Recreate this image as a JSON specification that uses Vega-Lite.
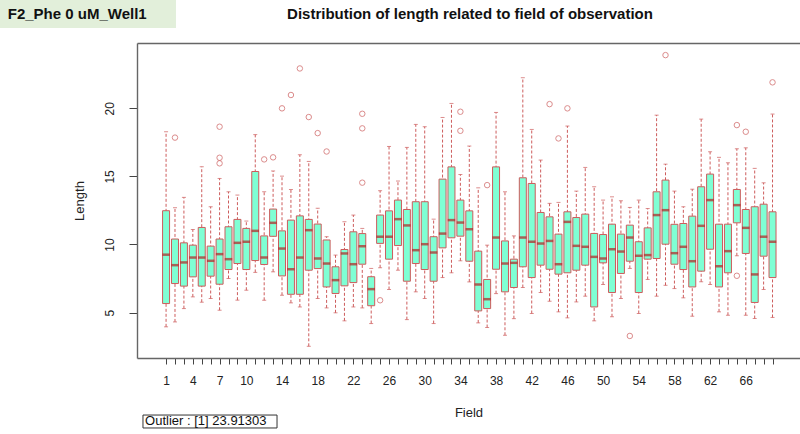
{
  "$schema": "https://vega.github.io/schema/vega-lite/v6.json",
  "autosize": "none",
  "width": 663,
  "height": 315,
  "padding": {"left": 137, "top": 43, "right": 0, "bottom": 76},
  "background": "white",
  "config": {"view": {"stroke": null}, "font": "Liberation Sans"},
  "datasets": {
    "boxes": [
      {"field":1,"lo":3.95,"q1":5.66,"med":9.25,"q3":12.48,"hi":18.28},
      {"field":2,"lo":4.31,"q1":7.13,"med":8.48,"q3":10.4,"hi":12.7},
      {"field":3,"lo":5.29,"q1":6.94,"med":8.68,"q3":10.12,"hi":13.46},
      {"field":4,"lo":6.15,"q1":7.62,"med":9.04,"q3":9.95,"hi":11.1},
      {"field":5,"lo":5.76,"q1":6.94,"med":9.04,"q3":11.25,"hi":15.71},
      {"field":6,"lo":6.03,"q1":7.67,"med":8.8,"q3":9.88,"hi":12.77},
      {"field":7,"lo":5.17,"q1":7.08,"med":9.29,"q3":10.4,"hi":14.85},
      {"field":8,"lo":7.5,"q1":8.16,"med":8.92,"q3":11.3,"hi":13.87},
      {"field":9,"lo":5.91,"q1":8.6,"med":10.12,"q3":11.84,"hi":13.63},
      {"field":10,"lo":6.64,"q1":8.16,"med":10.2,"q3":11.18,"hi":11.72},
      {"field":11,"lo":7.95,"q1":8.82,"med":11.0,"q3":15.36,"hi":18.07},
      {"field":12,"lo":5.9,"q1":8.53,"med":9.04,"q3":10.63,"hi":13.87},
      {"field":13,"lo":7.99,"q1":10.6,"med":11.59,"q3":12.6,"hi":15.4},
      {"field":14,"lo":6.27,"q1":7.69,"med":9.7,"q3":11.0,"hi":15.02},
      {"field":15,"lo":5.71,"q1":6.34,"med":8.18,"q3":11.79,"hi":14.04},
      {"field":16,"lo":5.41,"q1":6.34,"med":9.04,"q3":12.1,"hi":16.59},
      {"field":17,"lo":2.52,"q1":8.11,"med":11.05,"q3":11.84,"hi":16.1},
      {"field":18,"lo":6.03,"q1":8.23,"med":8.97,"q3":11.5,"hi":12.66},
      {"field":19,"lo":5.34,"q1":6.88,"med":8.6,"q3":10.33,"hi":10.57},
      {"field":20,"lo":4.98,"q1":6.4,"med":7.38,"q3":8.36,"hi":9.22},
      {"field":21,"lo":4.39,"q1":6.96,"med":9.34,"q3":9.63,"hi":11.67},
      {"field":22,"lo":5.41,"q1":7.2,"med":8.55,"q3":10.93,"hi":12.16},
      {"field":23,"lo":5.34,"q1":8.55,"med":9.87,"q3":10.8,"hi":11.18},
      {"field":24,"lo":4.19,"q1":5.5,"med":6.72,"q3":7.63,"hi":8.24},
      {"field":25,"lo":8.29,"q1":10.08,"med":10.57,"q3":12.16,"hi":13.95},
      {"field":26,"lo":6.69,"q1":8.92,"med":10.57,"q3":12.47,"hi":17.2},
      {"field":27,"lo":8.11,"q1":9.92,"med":11.86,"q3":13.26,"hi":14.66},
      {"field":28,"lo":4.48,"q1":7.3,"med":11.4,"q3":12.57,"hi":17.13},
      {"field":29,"lo":6.52,"q1":8.6,"med":9.58,"q3":13.14,"hi":18.82},
      {"field":30,"lo":6.03,"q1":8.16,"med":10.02,"q3":13.14,"hi":18.65},
      {"field":31,"lo":4.19,"q1":7.3,"med":9.41,"q3":10.57,"hi":11.86},
      {"field":32,"lo":7.57,"q1":9.75,"med":10.8,"q3":14.8,"hi":19.33},
      {"field":33,"lo":7.92,"q1":10.49,"med":11.79,"q3":15.7,"hi":20.36},
      {"field":34,"lo":8.8,"q1":10.61,"med":11.61,"q3":13.26,"hi":15.14},
      {"field":35,"lo":7.25,"q1":8.77,"med":11.12,"q3":12.47,"hi":17.23},
      {"field":36,"lo":4.24,"q1":5.12,"med":7.06,"q3":9.51,"hi":14.16},
      {"field":37,"lo":3.9,"q1":5.29,"med":5.98,"q3":7.43,"hi":9.95},
      {"field":38,"lo":6.39,"q1":8.18,"med":10.51,"q3":15.7,"hi":19.7},
      {"field":39,"lo":3.33,"q1":6.52,"med":8.6,"q3":10.26,"hi":13.87},
      {"field":40,"lo":4.55,"q1":6.84,"med":8.65,"q3":8.92,"hi":10.63},
      {"field":41,"lo":6.84,"q1":8.36,"med":10.51,"q3":14.9,"hi":22.25},
      {"field":42,"lo":4.93,"q1":7.57,"med":10.2,"q3":14.48,"hi":18.45},
      {"field":43,"lo":6.47,"q1":8.48,"med":10.07,"q3":12.35,"hi":16.2},
      {"field":44,"lo":5.83,"q1":8.18,"med":10.26,"q3":12.03,"hi":13.02},
      {"field":45,"lo":5.05,"q1":7.82,"med":8.55,"q3":10.76,"hi":13.09},
      {"field":46,"lo":4.61,"q1":7.92,"med":11.66,"q3":12.4,"hi":18.7},
      {"field":47,"lo":5.78,"q1":8.11,"med":9.9,"q3":11.98,"hi":13.92},
      {"field":48,"lo":6.2,"q1":8.48,"med":9.83,"q3":12.23,"hi":15.66},
      {"field":49,"lo":4.39,"q1":5.41,"med":9.09,"q3":10.81,"hi":14.24},
      {"field":50,"lo":7.06,"q1":8.65,"med":8.97,"q3":10.73,"hi":13.26},
      {"field":51,"lo":4.69,"q1":6.47,"med":9.65,"q3":11.49,"hi":13.5},
      {"field":52,"lo":6.03,"q1":7.87,"med":9.48,"q3":10.76,"hi":13.21},
      {"field":53,"lo":8.24,"q1":8.77,"med":10.51,"q3":11.42,"hi":12.72},
      {"field":54,"lo":4.93,"q1":6.47,"med":9.17,"q3":10.2,"hi":13.26},
      {"field":55,"lo":7.43,"q1":8.92,"med":9.22,"q3":11.22,"hi":12.64},
      {"field":56,"lo":6.2,"q1":8.97,"med":12.16,"q3":13.87,"hi":19.5},
      {"field":57,"lo":7.0,"q1":10.02,"med":12.52,"q3":14.73,"hi":15.9},
      {"field":58,"lo":6.76,"q1":8.55,"med":9.36,"q3":11.48,"hi":13.92},
      {"field":59,"lo":6.08,"q1":8.16,"med":9.83,"q3":11.54,"hi":12.77},
      {"field":60,"lo":4.73,"q1":6.88,"med":8.77,"q3":12.08,"hi":14.06},
      {"field":61,"lo":7.26,"q1":8.04,"med":11.37,"q3":14.24,"hi":19.21},
      {"field":62,"lo":7.06,"q1":9.65,"med":13.26,"q3":15.17,"hi":16.81},
      {"field":63,"lo":5.05,"q1":6.88,"med":8.4,"q3":11.49,"hi":16.4},
      {"field":64,"lo":4.8,"q1":7.92,"med":9.51,"q3":11.49,"hi":16.0},
      {"field":65,"lo":9.17,"q1":11.59,"med":12.89,"q3":14.04,"hi":17.03},
      {"field":66,"lo":4.8,"q1":9.34,"med":11.22,"q3":12.57,"hi":17.1},
      {"field":67,"lo":4.56,"q1":5.74,"med":7.8,"q3":12.77,"hi":15.59},
      {"field":68,"lo":6.69,"q1":9.14,"med":10.57,"q3":12.96,"hi":14.53},
      {"field":69,"lo":4.64,"q1":7.57,"med":10.2,"q3":12.4,"hi":19.58}
    ],
    "outliers": [
      {"field":2,"value":17.85},
      {"field":7,"value":18.65},{"field":7,"value":16.37},{"field":7,"value":15.96},
      {"field":12,"value":16.25},
      {"field":13,"value":16.4},
      {"field":14,"value":20.0},
      {"field":15,"value":20.98},
      {"field":16,"value":22.93},
      {"field":17,"value":19.36},
      {"field":18,"value":18.18},
      {"field":19,"value":16.83},
      {"field":23,"value":19.6},{"field":23,"value":18.53},{"field":23,"value":14.54},
      {"field":25,"value":5.9},
      {"field":34,"value":19.75},{"field":34,"value":18.35},
      {"field":37,"value":14.36},
      {"field":44,"value":20.31},
      {"field":45,"value":17.79},
      {"field":46,"value":20.0},
      {"field":53,"value":3.28},
      {"field":57,"value":23.91},
      {"field":65,"value":18.77},{"field":65,"value":7.7},
      {"field":66,"value":18.28},
      {"field":69,"value":21.91}
    ],
    "header": [{"label": "F2_Phe 0 uM_Well1"}],
    "title": [{"label": "Distribution of length related to field of observation"}],
    "note": [{"label": "Outlier : [1] 23.91303"}]
  },
  "resolve": {"axis": {"x": "independent", "y": "independent"}},
  "layer": [
    {
      "data": {"name": "boxes"},
      "mark": {"type": "rule", "color": "#CD5C5C", "strokeDash": [3, 2], "strokeWidth": 1},
      "encoding": {
        "x": {"field": "field", "type": "quantitative", "scale": {"domain": [-2.26, 72.08], "nice": false, "zero": false, "padding": 0},
              "axis": {"orient": "bottom", "values": [1,2,3,4,5,6,7,8,9,10,11,12,13,14,15,16,17,18,19,20,21,22,23,24,25,26,27,28,29,30,31,32,33,34,35,36,37,38,39,40,41,42,43,44,45,46,47,48,49,50,51,52,53,54,55,56,57,58,59,60,61,62,63,64,65,66,67,68,69],
                       "labelExpr": "((datum.value <= 10 && (datum.value - 1) % 3 == 0) || (datum.value >= 14 && datum.value <= 66 && (datum.value - 10) % 4 == 0)) ? datum.label : ''",
                       "labelOverlap": false, "labelAngle": 0, "labelFlush": false, "tickSize": 6, "tickColor": "#444", "labelPadding": 11,
                       "labelFontSize": 12, "labelColor": "#222", "labelFont": "Liberation Sans",
                       "title": "Field", "titleFontSize": 13, "titleFontWeight": "normal", "titleColor": "#222", "titleFont": "Liberation Sans", "titlePadding": 20,
                       "domainColor": "#666", "domainWidth": 1.4, "grid": false}},
        "y": {"field": "lo", "type": "quantitative", "scale": {"domain": [1.66, 24.8], "nice": false, "zero": false, "padding": 0},
              "axis": {"values": [5, 10, 15, 20], "labelAngle": -90, "tickSize": 8, "tickColor": "#444", "labelPadding": 13,
                       "labelFontSize": 12, "labelColor": "#222", "labelFont": "Liberation Sans",
                       "title": "Length", "titleFontSize": 13, "titleFontWeight": "normal", "titleColor": "#222", "titleFont": "Liberation Sans", "titlePadding": 17,
                       "domainColor": "#666", "domainWidth": 1.4, "grid": false}},
        "y2": {"field": "hi"}
      }
    },
    {
      "data": {"name": "header"},
      "mark": {"type": "rect", "fill": "#E2EFDA", "clip": false},
      "encoding": {
        "x": {"datum": -17.7, "type": "quantitative",
              "axis": {"orient": "top", "domain": true, "domainColor": "#666", "domainWidth": 1.4, "ticks": false, "labels": false, "title": null, "grid": false}},
        "x2": {"datum": 2.11},
        "y": {"datum": 28.2, "type": "quantitative", "axis": null},
        "y2": {"datum": 25.9}
      }
    },
    {
      "data": {"name": "header"},
      "mark": {"type": "text", "align": "left", "baseline": "middle", "font": "Liberation Sans", "fontWeight": "bold", "fontSize": 15, "color": "#111", "clip": false},
      "encoding": {
        "x": {"datum": -16.75, "type": "quantitative", "axis": null},
        "y": {"datum": 26.95, "type": "quantitative", "axis": null},
        "text": {"field": "label"}
      }
    },
    {
      "data": {"name": "title"},
      "mark": {"type": "text", "align": "center", "baseline": "middle", "font": "Liberation Sans", "fontWeight": "bold", "fontSize": 15, "color": "#111", "clip": false},
      "encoding": {
        "x": {"datum": 35.08, "type": "quantitative", "axis": null},
        "y": {"datum": 26.95, "type": "quantitative", "axis": null},
        "text": {"field": "label"}
      }
    },
    {
      "data": {"name": "boxes"},
      "mark": {"type": "tick", "orient": "horizontal", "color": "#CD5C5C", "size": 4, "thickness": 1},
      "encoding": {
        "x": {"field": "field", "type": "quantitative", "axis": null},
        "y": {"field": "lo", "type": "quantitative", "axis": null}
      }
    },
    {
      "data": {"name": "boxes"},
      "mark": {"type": "tick", "orient": "horizontal", "color": "#CD5C5C", "size": 4, "thickness": 1},
      "encoding": {
        "x": {"field": "field", "type": "quantitative", "axis": null},
        "y": {"field": "hi", "type": "quantitative", "axis": null}
      }
    },
    {
      "data": {"name": "boxes"},
      "mark": {"type": "bar", "width": 7, "fill": "#7FFFD4", "stroke": "#CD5C5C", "strokeWidth": 1},
      "encoding": {
        "x": {"field": "field", "type": "quantitative", "axis": null},
        "y": {"field": "q1", "type": "quantitative", "axis": null},
        "y2": {"field": "q3"}
      }
    },
    {
      "data": {"name": "boxes"},
      "mark": {"type": "tick", "orient": "horizontal", "color": "#B22222", "size": 7.5, "thickness": 2.5},
      "encoding": {
        "x": {"field": "field", "type": "quantitative", "axis": null},
        "y": {"field": "med", "type": "quantitative", "axis": null}
      }
    },
    {
      "data": {"name": "outliers"},
      "mark": {"type": "point", "shape": "circle", "filled": false, "stroke": "#CD5C5C", "strokeWidth": 1, "size": 30},
      "encoding": {
        "x": {"field": "field", "type": "quantitative", "axis": null},
        "y": {"field": "value", "type": "quantitative", "axis": null}
      }
    },
    {
      "data": {"name": "note"},
      "mark": {"type": "rect", "fill": "white", "stroke": "#333", "strokeWidth": 1, "clip": false},
      "encoding": {
        "x": {"datum": -1.59, "type": "quantitative", "axis": null},
        "x2": {"datum": 13.44},
        "y": {"datum": -2.53, "type": "quantitative", "axis": null},
        "y2": {"datum": -3.48}
      }
    },
    {
      "data": {"name": "note"},
      "mark": {"type": "text", "align": "left", "baseline": "middle", "font": "Liberation Sans", "fontSize": 13, "color": "#111", "clip": false},
      "encoding": {
        "x": {"datum": -1.35, "type": "quantitative", "axis": null},
        "y": {"datum": -3.0, "type": "quantitative", "axis": null},
        "text": {"field": "label"}
      }
    }
  ]
}
